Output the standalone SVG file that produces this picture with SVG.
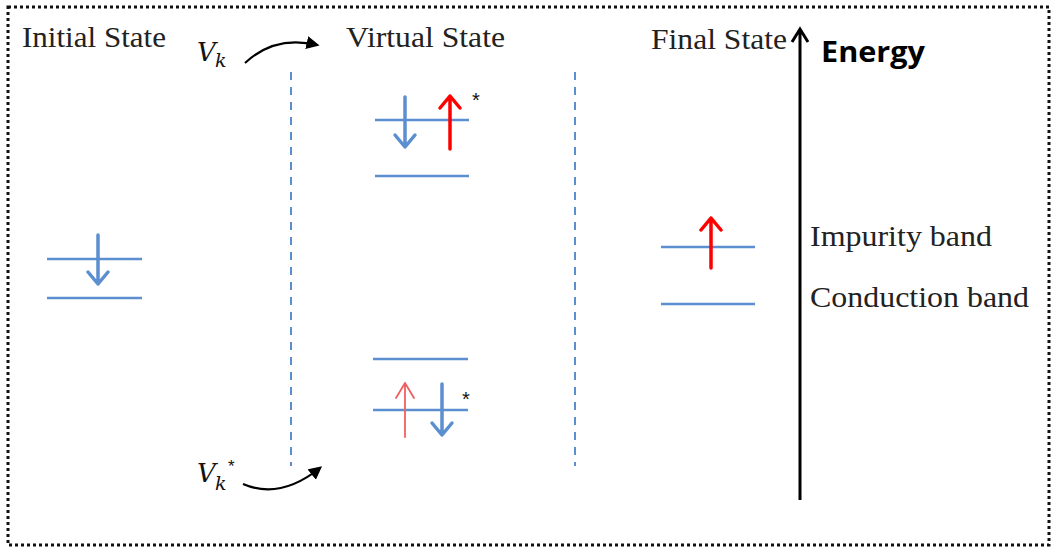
<svg xmlns="http://www.w3.org/2000/svg" width="1054" height="551" viewBox="0 0 1054 551">
<style>
.t{font-family:"Liberation Serif","Times New Roman",serif;font-size:29px;fill:#222}
.lvl{stroke:#5b8fd0;stroke-width:2.5;fill:none}
.dash{stroke:#5b8fd0;stroke-width:2;stroke-dasharray:8,7;fill:none}
.bl{stroke:#5b8fd0;stroke-width:3.5;fill:none;stroke-linecap:round;stroke-linejoin:round}
.rd{stroke:#ff0000;stroke-width:3.5;fill:none;stroke-linecap:round;stroke-linejoin:round}
.rdt{stroke:#f06060;stroke-width:1.8;fill:none;stroke-linecap:round;stroke-linejoin:round}
.mi{font-family:"DejaVu Serif","Liberation Serif",serif;font-style:italic;fill:#111}
</style>
<defs>
<marker id="ah" viewBox="0 0 10 10" refX="8" refY="5" markerWidth="6" markerHeight="6" orient="auto"><path d="M0,0 L10,5 L0,10 z" fill="#000"/></marker>
</defs>
<rect x="8" y="7" width="1041" height="538" fill="none" stroke="#111" stroke-width="3" stroke-dasharray="3,3"/>
<g id="initial">
<text class="t" x="22" y="47" textLength="144" lengthAdjust="spacingAndGlyphs">Initial State</text>
<line class="lvl" x1="47" y1="259" x2="142" y2="259"/>
<line class="lvl" x1="47" y1="298" x2="142" y2="298"/>
<path class="bl" d="M98,235 V284 M88,272 L98,284 L108,272"/>
</g>
<g id="virtual">
<text class="t" x="346" y="47" textLength="159" lengthAdjust="spacingAndGlyphs">Virtual State</text>
<line class="lvl" x1="375" y1="120" x2="469" y2="120"/>
<line class="lvl" x1="375" y1="176" x2="469" y2="176"/>
<path class="bl" d="M405,97 V147 M395,135 L405,147 L415,135"/>
<path class="rd" d="M450,149 V96 M440,108 L450,96 L460,108"/>
<text x="472" y="107" font-family="Liberation Sans,sans-serif" font-size="20" fill="#111">*</text>
<line class="lvl" x1="373" y1="359" x2="468" y2="359"/>
<line class="lvl" x1="373" y1="410" x2="468" y2="410"/>
<path class="rdt" d="M405,437 V383 M396,398 L405,383 L414,398"/>
<path class="bl" d="M442,384 V435 M432,423 L442,435 L452,423"/>
<text x="462" y="406" font-family="Liberation Sans,sans-serif" font-size="20" fill="#111">*</text>
</g>
<g id="final">
<text class="t" x="651" y="49" textLength="136" lengthAdjust="spacingAndGlyphs">Final State</text>
<line class="lvl" x1="661" y1="247" x2="755" y2="247"/>
<line class="lvl" x1="661" y1="304" x2="755" y2="304"/>
<path class="rd" d="M711,268 V218 M701,230 L711,218 L721,230"/>
</g>
<g id="energy">
<path d="M800,500 V30 M792,42 L800,29 L808,42" stroke="#000" stroke-width="3" fill="none"/>
<text x="821" y="62" font-family="Open Sans,Liberation Sans,sans-serif" font-weight="bold" font-size="29" fill="#000" textLength="104" lengthAdjust="spacingAndGlyphs">Energy</text>
<text class="t" x="810" y="246" textLength="182" lengthAdjust="spacingAndGlyphs">Impurity band</text>
<text class="t" x="810" y="307" textLength="219" lengthAdjust="spacingAndGlyphs">Conduction band</text>
</g>
<g id="vk">
<text class="mi" x="197" y="61" font-size="26">V</text>
<text class="mi" x="215" y="67" font-size="19">k</text>
</g>
<g id="vkstar">
<text class="mi" x="197" y="482" font-size="26">V</text>
<text class="mi" x="215" y="490" font-size="19">k</text>
<text x="228" y="472" font-family="Liberation Sans,sans-serif" font-size="17" fill="#111">*</text>
</g>
<g id="connectors">
<line class="dash" x1="291" y1="72" x2="291" y2="466"/>
<line class="dash" x1="575" y1="72" x2="575" y2="466"/>
<path d="M245,63 Q275,35 317,45" stroke="#000" stroke-width="2.2" fill="none" marker-end="url(#ah)"/>
<path d="M243,484 Q280,500 320,468" stroke="#000" stroke-width="2.2" fill="none" marker-end="url(#ah)"/>
</g>
</svg>
